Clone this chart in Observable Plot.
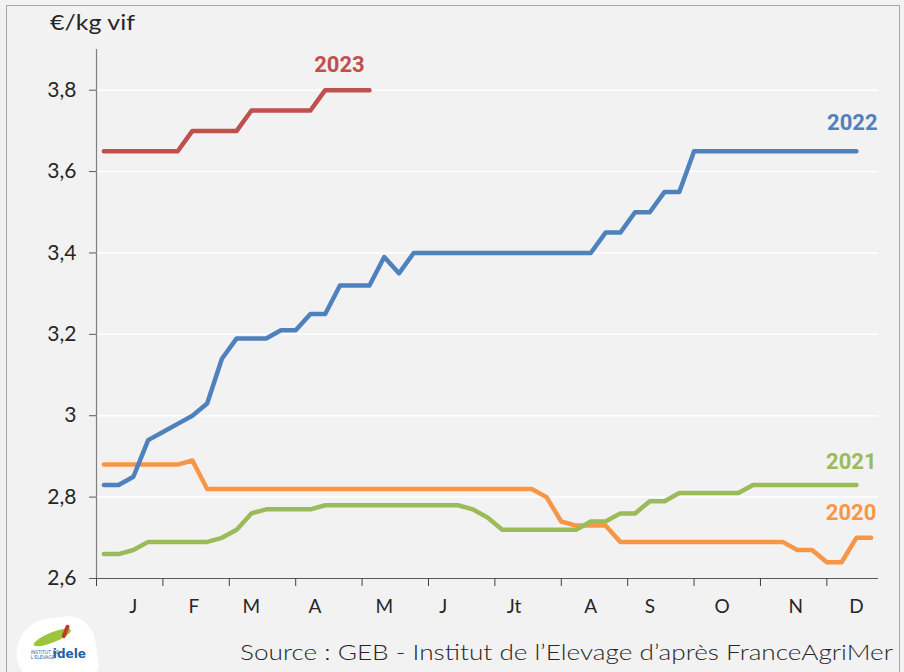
<!DOCTYPE html>
<html>
<head>
<meta charset="utf-8">
<script src="https://cdn.jsdelivr.net/npm/d3@7"></script>
<script src="https://cdn.jsdelivr.net/npm/@observablehq/plot@0.6"></script>
<style>
  html, body { margin: 0; padding: 0; background: #ffffff; }
  #wrap { position: relative; width: 904px; height: 672px; background: #f2f2f2; overflow: hidden; font-family: Lato, "Open Sans", sans-serif; color: #262626; }
  #frame { position: absolute; left: 6px; top: 5px; width: 892px; height: 720px; border: 1px solid #a6a6a6; pointer-events: none; }
  #chart { position: absolute; left: 0; top: 0; }
  #ylab { position: absolute; left: 50px; top: 8px; font-size: 22px; line-height: 28px; white-space: nowrap; transform-origin: 0 50%; }
  #source { position: absolute; left: 240px; top: 638px; font-size: 21px; font-weight: 300; line-height: 28px; white-space: nowrap; transform-origin: 0 50%; }
  #logo { position: absolute; left: 16px; top: 618px; width: 80px; height: 62px; background: #ffffff; border-radius: 38px 30px 10px 30px; transform: rotate(-8deg); }
  #logo .sw1 { position: absolute; left: 18px; top: 14px; width: 40px; height: 10px; border-radius: 50%; background: #9bc53d; transform: rotate(-14deg); }
  #logo .sw2 { position: absolute; left: 50px; top: 8px; width: 4px; height: 14px; background: #c0392b; border-radius: 3px; transform: rotate(30deg); }
  #logo .t1 { position: absolute; left: 14px; top: 30px; font-size: 5px; line-height: 5px; color: #1f5fa8; font-family: "DejaVu Sans Condensed", sans-serif; transform: rotate(8deg); }
  #logo .t2 { position: absolute; left: 36px; top: 31px; font-size: 12px; font-weight: bold; color: #1f5fa8; font-family: "DejaVu Sans", sans-serif; transform: rotate(8deg); }
</style>
</head>
<body>
<div id="wrap">
  <div id="chart"></div>
  <div id="frame"></div>
  <div id="ylab">€/kg vif</div>
  <div id="logo"><div class="sw1"></div><div class="sw2"></div><div class="t1">INSTITUT DE<br>L'ELEVAGE</div><div class="t2">idele</div></div>
  <div id="source">Source : GEB - Institut de l’Elevage d’après FranceAgriMer</div>
</div>
<script>
// ---- Data (weekly prices, €/kg vif) ----
const years = ["2020", "2021", "2022", "2023"];
const colors = ["#f79646", "#9bbb59", "#4f81bd", "#c0504d"];

const s2020 = [2.88, 2.88, 2.88, 2.88, 2.88, 2.88, 2.89,
  2.82, 2.82, 2.82, 2.82, 2.82, 2.82, 2.82, 2.82, 2.82, 2.82, 2.82, 2.82,
  2.82, 2.82, 2.82, 2.82, 2.82, 2.82, 2.82, 2.82, 2.82, 2.82, 2.82,
  2.80, 2.74, 2.73, 2.73, 2.73,
  2.69, 2.69, 2.69, 2.69, 2.69, 2.69, 2.69, 2.69, 2.69, 2.69, 2.69, 2.69,
  2.67, 2.67, 2.64, 2.64, 2.70, 2.70];

const s2021 = [2.66, 2.66, 2.67, 2.69, 2.69, 2.69, 2.69, 2.69, 2.70, 2.72, 2.76,
  2.77, 2.77, 2.77, 2.77,
  2.78, 2.78, 2.78, 2.78, 2.78, 2.78, 2.78, 2.78, 2.78, 2.78,
  2.77, 2.75, 2.72, 2.72, 2.72, 2.72, 2.72, 2.72,
  2.74, 2.74, 2.76, 2.76, 2.79, 2.79,
  2.81, 2.81, 2.81, 2.81, 2.81,
  2.83, 2.83, 2.83, 2.83, 2.83, 2.83, 2.83, 2.83];

const s2022 = [2.83, 2.83, 2.85, 2.94, 2.96, 2.98, 3.00, 3.03, 3.14, 3.19, 3.19, 3.19,
  3.21, 3.21, 3.25, 3.25, 3.32, 3.32, 3.32, 3.39, 3.35,
  3.40, 3.40, 3.40, 3.40, 3.40, 3.40, 3.40, 3.40, 3.40, 3.40, 3.40, 3.40, 3.40,
  3.45, 3.45, 3.50, 3.50, 3.55, 3.55,
  3.65, 3.65, 3.65, 3.65, 3.65, 3.65, 3.65, 3.65, 3.65, 3.65, 3.65, 3.65];

const s2023 = [3.65, 3.65, 3.65, 3.65, 3.65, 3.65, 3.70, 3.70, 3.70, 3.70,
  3.75, 3.75, 3.75, 3.75, 3.75, 3.80, 3.80, 3.80, 3.80];

const yTicks = [2.6, 2.8, 3.0, 3.2, 3.4, 3.6, 3.8];
const yTickLabels = ["2,6", "2,8", "3", "3,2", "3,4", "3,6", "3,8"];
const months = ["J", "F", "M", "A", "M", "J", "Jt", "A", "S", "O", "N", "D"];
const monthWeek = [2, 6.1, 10, 14.3, 19, 23, 27.8, 33, 37, 41.9, 46.9, 51];
const monthTickWeek = [-0.5, 4, 8.5, 13, 17.5, 22, 26.5, 31, 35.5, 40, 44.5, 49];
const sourceText = "Source : GEB - Institut de l’Elevage d’après FranceAgriMer";

// ---- Build table ----
const seriesList = [s2020, s2021, s2022, s2023];
const rows = [];
seriesList.forEach((s, k) => s.forEach((v, i) => rows.push({ year: years[k], week: i, value: v })));
const lastPoints = seriesList.map((s, k) => ({ year: years[k], week: s.length - 1, value: s[s.length - 1] }));

const yLabelMap = new Map(yTicks.map((t, i) => [t, yTickLabels[i]]));
const monthMap = new Map(monthWeek.map((w, i) => [w, months[i]]));

const labelOffsets = { "2020": [-20, -25], "2021": [-5, -23], "2022": [-4, -28], "2023": [-30, -25] };

const chart = Plot.plot({
  width: 904,
  height: 672,
  marginLeft: 96,
  marginRight: 26,
  marginTop: 49,
  marginBottom: 94,
  style: { background: "transparent", fontFamily: "Lato, 'Open Sans', sans-serif", color: "#262626", overflow: "visible" },
  x: { domain: [-0.5, 52.5] },
  y: { domain: [2.6, 3.9] },
  color: { domain: years, range: colors },
  marks: [
    Plot.ruleY(yTicks.slice(1), { stroke: "#ffffff", strokeWidth: 1.5 }),
    Plot.axisY({ ticks: yTicks, tickFormat: d => yLabelMap.get(d), tickSize: 7, tickPadding: 13, label: null, fontSize: 21, stroke: "#595959" }),
    Plot.ruleX([-0.5], { stroke: "#7f7f7f", strokeWidth: 1.2 }),
    Plot.ruleY([2.6], { stroke: "#595959", strokeWidth: 1.2 }),
    Plot.axisX({ ticks: monthTickWeek, tickFormat: () => "", tickSize: 8, label: null, stroke: "#404040" }),
    Plot.axisX({ ticks: monthWeek, tickFormat: d => monthMap.get(d), tickSize: 0, tickPadding: 21, label: null, fontSize: 19 }),
    Plot.line(rows, { x: "week", y: "value", z: "year", stroke: "year", strokeWidth: 4.5, strokeLinejoin: "round", strokeLinecap: "round" }),
    ...years.map(y => Plot.text(lastPoints.filter(d => d.year === y), {
      x: "week", y: "value", text: "year", fill: "year",
      dx: labelOffsets[y][0], dy: labelOffsets[y][1],
      fontSize: 22, fontWeight: "bold", fontFamily: "Roboto, sans-serif"
    }))
  ]
});
document.getElementById("chart").appendChild(chart);

// fit texts to reference widths
const src = document.getElementById("source");
src.textContent = sourceText;
src.style.transform = `scaleX(${653 / src.getBoundingClientRect().width})`;
const yl = document.getElementById("ylab");
yl.style.transform = `scaleX(${85 / yl.getBoundingClientRect().width})`;
</script>
</body>
</html>
